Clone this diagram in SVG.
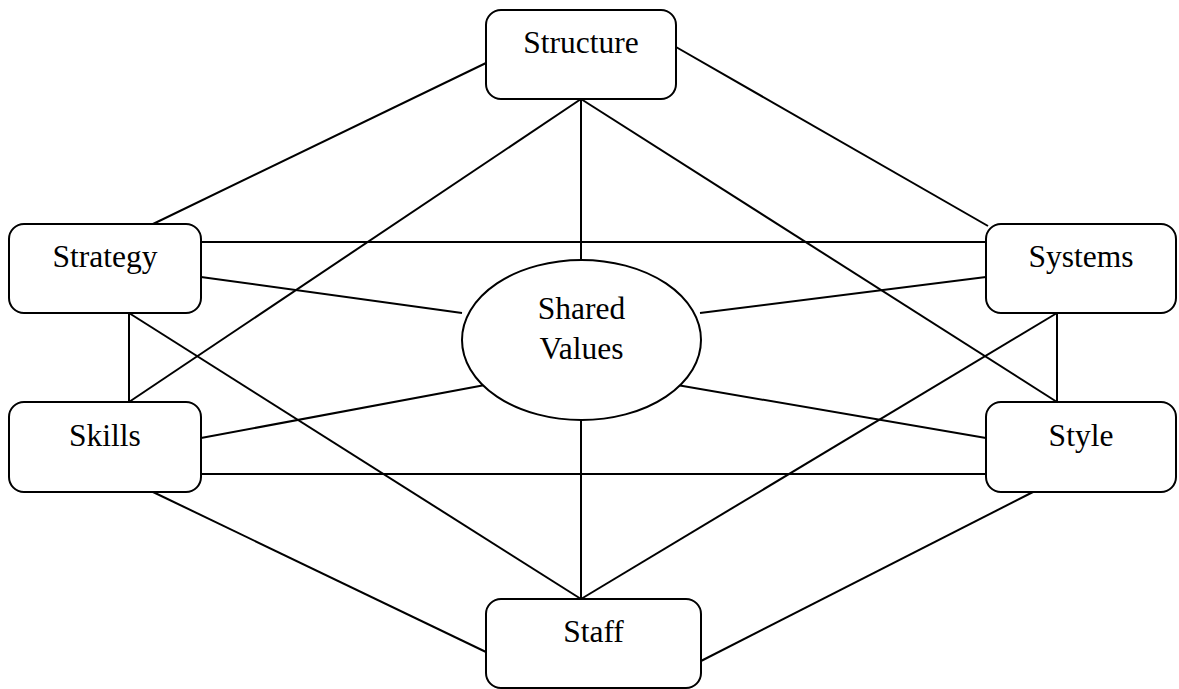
<svg xmlns="http://www.w3.org/2000/svg" width="1179" height="689" viewBox="0 0 1179 689">
<style>
.box{fill:#fff;stroke:#000;stroke-width:2}
.lbl{font-family:"Liberation Serif","Times New Roman",serif;font-size:31.5px;fill:#000;text-anchor:middle}
.conn line{stroke:#000;stroke-width:2}
</style>
<rect width="1179" height="689" fill="#fff"/>
<g class="conn">
<line x1="486" y1="63" x2="153" y2="224"/>
<line x1="676" y1="47" x2="988" y2="226"/>
<line x1="581" y1="99" x2="581" y2="260"/>
<line x1="581" y1="99" x2="129" y2="402"/>
<line x1="581" y1="99" x2="1057" y2="402"/>
<line x1="201" y1="242" x2="986" y2="242"/>
<line x1="201" y1="277" x2="462" y2="313"/>
<line x1="986" y1="277" x2="700" y2="313"/>
<line x1="129" y1="313" x2="129" y2="402"/>
<line x1="129" y1="313" x2="581" y2="599"/>
<line x1="1057" y1="313" x2="1057" y2="402"/>
<line x1="1057" y1="313" x2="581" y2="599"/>
<line x1="201" y1="438" x2="485" y2="385"/>
<line x1="201" y1="474" x2="986" y2="474"/>
<line x1="986" y1="438" x2="677" y2="385"/>
<line x1="581" y1="420" x2="581" y2="599"/>
<line x1="153" y1="492" x2="486" y2="652"/>
<line x1="1033" y1="492" x2="701" y2="661"/>
</g>
<g id="structure"><rect class="box" x="486" y="10" width="190" height="89" rx="15"/><text class="lbl" x="581" y="53">Structure</text></g>
<g id="strategy"><rect class="box" x="9" y="224" width="192" height="89" rx="15"/><text class="lbl" x="105" y="267">Strategy</text></g>
<g id="systems"><rect class="box" x="986" y="224" width="190" height="89" rx="15"/><text class="lbl" x="1081" y="267">Systems</text></g>
<g id="shared-values"><ellipse class="box" cx="581.5" cy="340" rx="119.5" ry="80"/><text class="lbl" x="581.5" y="319">Shared</text><text class="lbl" x="581.5" y="359">Values</text></g>
<g id="skills"><rect class="box" x="9" y="402" width="192" height="90" rx="15"/><text class="lbl" x="105" y="446">Skills</text></g>
<g id="style"><rect class="box" x="986" y="402" width="190" height="90" rx="15"/><text class="lbl" x="1081" y="446">Style</text></g>
<g id="staff"><rect class="box" x="486" y="599" width="215" height="89" rx="15"/><text class="lbl" x="593.5" y="642">Staff</text></g>
</svg>
